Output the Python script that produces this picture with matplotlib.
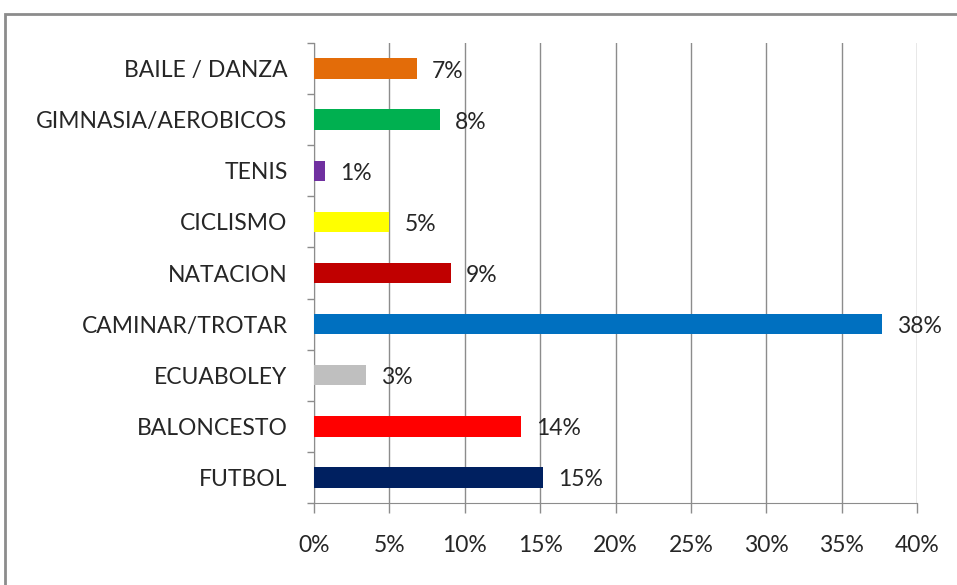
import matplotlib.pyplot as plt
from matplotlib.patches import Rectangle

plt.rcParams['font.family'] = ['Lato', 'DejaVu Sans']

deportes = ['FUTBOL', 'BALONCESTO', 'ECUABOLEY', 'CAMINAR/TROTAR', 'NATACION',
            'CICLISMO', 'TENIS', 'GIMNASIA/AEROBICOS', 'BAILE / DANZA']
porcentajes = [15.17, 13.71, 3.43, 37.68, 9.09, 5.0, 0.71, 8.36, 6.83]
colores = ['#002060', '#FF0000', '#BFBFBF', '#0070C0', '#C00000',
           '#FFFF00', '#7030A0', '#00B050', '#E36C09']
ticks_x = [0, 5, 10, 15, 20, 25, 30, 35, 40]

fig = plt.figure(figsize=(9.57, 5.85), dpi=100)
ax = fig.add_axes([314/957, 1-503/585, 603/957, 460/585])

# marco gris alrededor del grafico
fig.patches.append(Rectangle((5/957, -0.05), 1.1, 1-14/585+0.05, transform=fig.transFigure,
                             fill=False, edgecolor='#8c8c8c', linewidth=2))

y = range(len(deportes))
ax.barh(y, porcentajes, height=0.4, color=colores, zorder=3)
for i, v in enumerate(porcentajes):
    ax.text(v + 1.0, i - 0.05, f'{round(v):.0f}%', va='center', ha='left',
            fontsize=16.5, color='#262626', zorder=4)

ax.set_xlim(0, 40)
ax.set_ylim(-0.5, len(deportes) - 0.5)
ax.set_xticks(ticks_x)
ax.set_xticklabels([f'{t}%' for t in ticks_x], fontsize=16.5, color='#262626')
ax.grid(axis='x', color='#8c8c8c', linewidth=1, zorder=0)

# etiquetas en los centros, marcas entre categorias
ax.set_yticks([i + 0.5 for i in range(-1, len(deportes))])
ax.set_yticklabels([])
ax.set_yticks(list(y), minor=True)
ax.set_yticklabels(deportes, minor=True, fontsize=16.5, color='#262626')
ax.tick_params(axis='y', which='minor', length=0, pad=19)
ax.tick_params(axis='y', which='major', length=5, color='#8c8c8c', width=1)
ax.tick_params(axis='x', length=7, color='#8c8c8c', width=1, pad=16)

for s in ['top', 'right']:
    ax.spines[s].set_visible(False)
for s in ['left', 'bottom']:
    ax.spines[s].set_color('#8c8c8c')

fig.savefig('out.png', dpi=100)
